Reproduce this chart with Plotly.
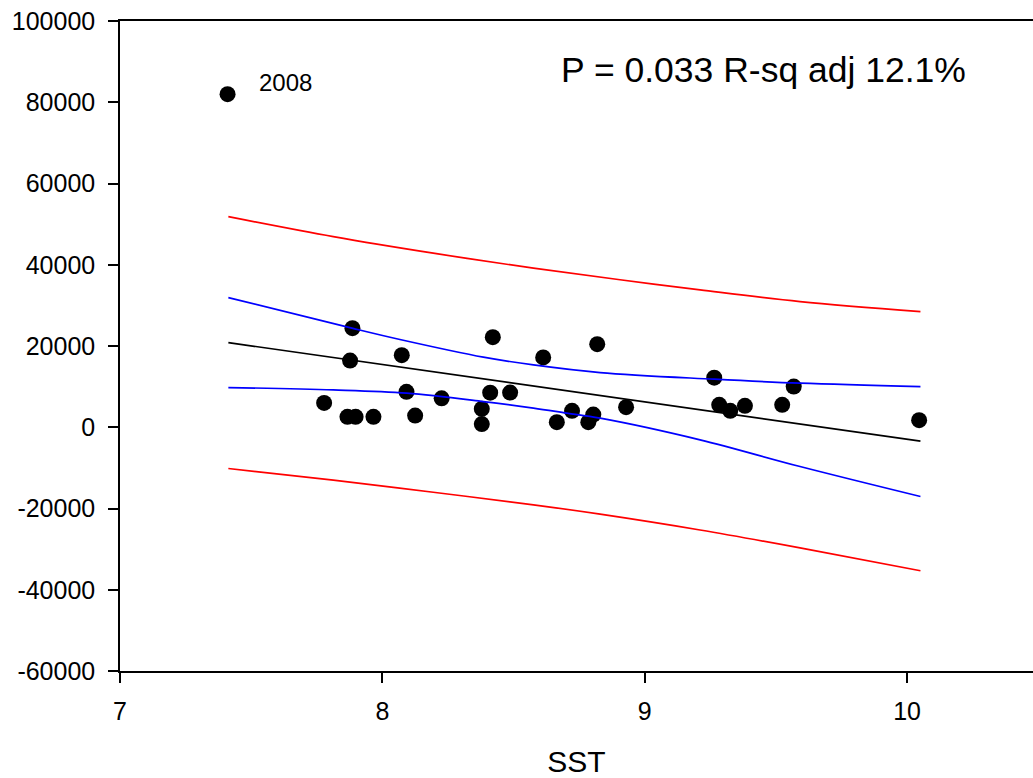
import plotly.graph_objects as go

# Observed data (SST vs value)
sst = [7.41, 7.886, 7.877, 7.778, 7.867, 7.898, 7.966, 8.074, 8.092, 8.125,
       8.226, 8.421, 8.379, 8.379, 8.411, 8.487, 8.613, 8.819, 8.665, 8.723,
       8.804, 8.785, 8.929, 9.265, 9.284, 9.326, 9.382, 9.524, 9.568, 10.046]
val = [82000, 24380, 16410, 6000, 2560, 2560, 2560, 17740, 8710, 2880,
       7110, 22170, 4530, 790, 8510, 8540, 17200, 20450, 1250, 4040,
       3120, 1250, 4950, 12200, 5510, 4040, 5270, 5510, 10010, 1750]

# Fitted regression line
fit_x = [7.413, 10.051]
fit_y = [20840, -3420]

# 95% confidence band (blue)
ci_up_x = [7.413, 7.884, 8.067, 8.385, 8.576, 8.830, 9.265, 9.592, 10.051]
ci_up_y = [31910, 24400, 21600, 17250, 15350, 13460, 11830, 10850, 10010]
ci_lo_x = [7.413, 7.813, 8.093, 8.385, 8.576, 8.703, 8.830, 9.211, 9.592, 10.051]
ci_lo_y = [9770, 9200, 8390, 6320, 4700, 3470, 2240, -3100, -9670, -17050]

# 95% prediction band (red)
pi_up_x = [7.413, 7.813, 8.194, 8.576, 8.906, 9.211, 9.592, 10.051]
pi_up_y = [51840, 46920, 42840, 39150, 36300, 33810, 30930, 28470]
pi_lo_x = [7.413, 7.813, 8.194, 8.576, 8.830, 9.211, 9.592, 10.051]
pi_lo_y = [-10160, -13000, -16000, -19100, -21400, -25300, -29700, -35330]

y_ticks = [-60000, -40000, -20000, 0, 20000, 40000, 60000, 80000, 100000]
y_ticktext = ["-60000", "-40000", "-20000", "0", "20000", "40000", "60000", "80000", "100000"]
x_ticks = [7, 8, 9, 10]
x_ticktext = ["7", "8", "9", "10"]

FONT = "Liberation Sans, Arial, sans-serif"
LW = 1.7

fig = go.Figure()
fig.add_trace(go.Scatter(x=sst, y=val, mode="markers",
                         marker=dict(color="black", size=16), showlegend=False))
fig.add_trace(go.Scatter(x=pi_up_x, y=pi_up_y, mode="lines", line=dict(color="#FF0000", width=LW, shape="spline"), showlegend=False))
fig.add_trace(go.Scatter(x=pi_lo_x, y=pi_lo_y, mode="lines", line=dict(color="#FF0000", width=LW, shape="spline"), showlegend=False))
fig.add_trace(go.Scatter(x=ci_up_x, y=ci_up_y, mode="lines", line=dict(color="#0000FF", width=LW, shape="spline"), showlegend=False))
fig.add_trace(go.Scatter(x=ci_lo_x, y=ci_lo_y, mode="lines", line=dict(color="#0000FF", width=LW, shape="spline"), showlegend=False))
fig.add_trace(go.Scatter(x=fit_x, y=fit_y, mode="lines", line=dict(color="black", width=LW), showlegend=False))

fig.add_annotation(x=7.522, y=84740, text="2008", showarrow=False,
                   xanchor="left", yanchor="middle", font=dict(size=24, color="black", family=FONT))
fig.add_annotation(x=8.672, y=87900, text="P = 0.033 R-sq adj 12.1%", showarrow=False,
                   xanchor="left", yanchor="middle", font=dict(size=35.5, color="black", family=FONT))

fig.update_layout(
    width=1033, height=778,
    margin=dict(l=120, r=0, t=21, b=107, autoexpand=False),
    plot_bgcolor="white", paper_bgcolor="white",
    font=dict(family=FONT, color="black", size=25),
    xaxis=dict(range=[7, 10.48], tickvals=x_ticks, ticktext=x_ticktext,
               ticks="outside", ticklen=10, tickwidth=1.5, tickcolor="black",
               showline=True, linecolor="black", linewidth=1.5, mirror=True,
               showgrid=False, zeroline=False, ticklabelstandoff=7,
               automargin=False,
               tickfont=dict(size=25),
               title=dict(text="SST", font=dict(size=30), standoff=28)),
    yaxis=dict(range=[-60000, 100000], tickvals=y_ticks, ticktext=y_ticktext,
               ticks="outside", ticklen=10, tickwidth=1.5, tickcolor="black",
               showline=True, linecolor="black", linewidth=1.5,
               showgrid=False, zeroline=False, ticklabelstandoff=8,
               automargin=False,
               tickfont=dict(size=25)),
)

fig.write_html("out.html")
